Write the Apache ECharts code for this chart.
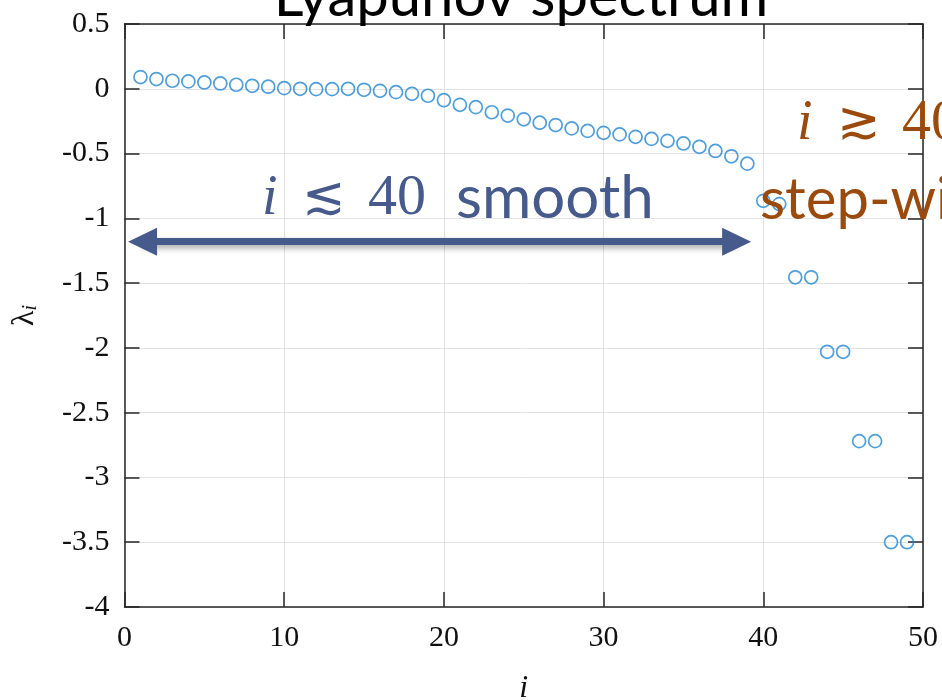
<!DOCTYPE html>
<html>
<head>
<meta charset="utf-8">
<script src="https://cdn.jsdelivr.net/npm/echarts@6/dist/echarts.min.js"></script>
<style>
html,body{margin:0;padding:0;background:#fff;}
#main{width:942px;height:700px;}
</style>
</head>
<body>
<div id="main"></div>
<script>
// spectrum index i and exponent lambda_i
var idx = [];
for (var k = 1; k <= 49; k++) idx.push(k);
var lambda = [
    0.09, 0.075, 0.062, 0.057, 0.049, 0.041, 0.031, 0.023, 0.016, 0.005,
    0.0, -0.003, -0.003, 0.0, -0.008, -0.016, -0.026, -0.039, -0.054, -0.088,
    -0.124, -0.142, -0.181, -0.207, -0.236, -0.262, -0.280, -0.306, -0.325, -0.340,
    -0.352, -0.371, -0.387, -0.402, -0.422, -0.448, -0.480, -0.521, -0.578,
    -0.865, -0.89, -1.455, -1.455, -2.03, -2.03, -2.72, -2.72, -3.5, -3.5
];
var xTicks = [0, 10, 20, 30, 40, 50];
var yTicks = [0.5, 0, -0.5, -1, -1.5, -2, -2.5, -3, -3.5, -4];
// annotation arrows (data coords, at the arrow-head centres)
var arrowY = -1.18;
var smoothRange = [1.13, 38.33];
var stepRange = [40.72, 50.1];

var chart = echarts.init(document.getElementById('main'));

var pts = idx.map(function (v, n) { return [v, lambda[n]]; });

var serif = '"Liberation Serif", "DejaVu Serif", serif';
var sans = 'Lato, "Open Sans", sans-serif';
var blueTxt = '#475a8c';
var brownTxt = '#9a4a0c';
var axisCol = '#262626';

var tickLabel = {
    fontFamily: serif,
    fontSize: 30,
    color: '#111'
};

function boxAxis(pos, min, max, step) {
    return {
        type: 'value', position: pos,
        min: min, max: max, interval: step,
        axisLine: {onZero: false, lineStyle: {color: axisCol, width: 1.5}},
        axisTick: {inside: true, length: 15, lineStyle: {color: axisCol, width: 1.5}},
        axisLabel: {show: false},
        splitLine: {show: false}
    };
}

var option = {
    animation: false,
    grid: {
        left: 124.5,
        right: 19,
        top: 24,
        bottom: 93,
        containLabel: false,
        outerBoundsMode: 'none'
    },
    xAxis: [{
        type: 'value',
        position: 'bottom',
        min: xTicks[0], max: xTicks[xTicks.length - 1], interval: 10,
        name: 'i',
        nameLocation: 'middle',
        nameGap: 66,
        nameTextStyle: {fontFamily: serif, fontStyle: 'italic', fontSize: 32, color: '#111'},
        axisLine: {onZero: false, lineStyle: {color: axisCol, width: 1.5}},
        axisTick: {inside: true, length: 15, lineStyle: {color: axisCol, width: 1.5}},
        axisLabel: Object.assign({margin: 16}, tickLabel),
        splitLine: {show: true, lineStyle: {color: '#e3e3e3', width: 1}}
    }, boxAxis('top', 0, 50, 10)],
    yAxis: [{
        type: 'value',
        position: 'left',
        min: yTicks[yTicks.length - 1], max: yTicks[0], interval: 0.5,
        name: '{l|λ}{s|i}',
        nameLocation: 'middle',
        nameRotate: 90,
        nameGap: 84,
        nameTextStyle: {
            rich: {
                l: {fontFamily: serif, fontSize: 32, color: '#111'},
                s: {fontFamily: serif, fontStyle: 'italic', fontSize: 20, color: '#111', padding: [12, 0, 0, 0]}
            }
        },
        axisLine: {onZero: false, lineStyle: {color: axisCol, width: 1.5}},
        axisTick: {inside: true, length: 15, lineStyle: {color: axisCol, width: 1.5}},
        axisLabel: Object.assign({margin: 15}, tickLabel),
        splitLine: {show: true, lineStyle: {color: '#e3e3e3', width: 1}}
    }, boxAxis('right', -4, 0.5, 0.5)],
    series: [{
        type: 'scatter',
        data: pts,
        symbol: 'circle',
        symbolSize: 13,
        clip: false,
        itemStyle: {color: 'rgba(0,0,0,0)', borderColor: '#2386d0', borderWidth: 1.7},
        markLine: {
            silent: true,
            label: {show: false},
            symbolSize: [28, 29],
            data: [
                [
                    {coord: [smoothRange[0], arrowY], symbol: 'triangle'},
                    {coord: [smoothRange[1], arrowY], symbol: 'triangle',
                     lineStyle: {color: '#475a8c', width: 7, type: 'solid',
                                 shadowBlur: 6, shadowColor: 'rgba(0,0,0,0.35)', shadowOffsetY: 3},
                     itemStyle: {color: '#475a8c'}}
                ],
                [
                    {coord: [stepRange[1], arrowY], symbol: 'none'},
                    {coord: [stepRange[0], arrowY], symbol: 'triangle',
                     lineStyle: {color: '#984608', width: 7, type: 'solid',
                                 shadowBlur: 6, shadowColor: 'rgba(0,0,0,0.35)', shadowOffsetY: 3},
                     itemStyle: {color: '#984608'}}
                ]
            ]
        }
    }],
    graphic: [
        {type: 'text', z: 100, x: 521, y: -32,
         style: {text: 'Lyapunov spectrum', font: '58px ' + sans, fill: '#000', align: 'center'}},
        // smooth label
        {type: 'text', z: 100, x: 262, y: 199,
         style: {text: 'i', fontFamily: serif, fontStyle: 'italic', fontSize: 56, fill: blueTxt, verticalAlign: 'middle'}},
        {type: 'text', z: 100, x: 302, y: 199,
         style: {text: '≲', fontFamily: '"DejaVu Serif", serif', fontSize: 52, fill: blueTxt, verticalAlign: 'middle'}},
        {type: 'text', z: 100, x: 368, y: 199,
         style: {text: '40', fontFamily: serif, fontSize: 58, fill: blueTxt, verticalAlign: 'middle'}},
        {type: 'text', z: 100, x: 456, y: 199,
         style: {text: 'smooth', fontFamily: sans, fontSize: 60, fill: blueTxt, verticalAlign: 'middle'}},
        // step-wise label
        {type: 'text', z: 100, x: 797, y: 124,
         style: {text: 'i', fontFamily: serif, fontStyle: 'italic', fontSize: 56, fill: brownTxt, verticalAlign: 'middle'}},
        {type: 'text', z: 100, x: 837, y: 124,
         style: {text: '≳', fontFamily: '"DejaVu Serif", serif', fontSize: 52, fill: brownTxt, verticalAlign: 'middle'}},
        {type: 'text', z: 100, x: 902, y: 124,
         style: {text: '40', fontFamily: serif, fontSize: 58, fill: brownTxt, verticalAlign: 'middle'}},
        {type: 'text', z: 100, x: 760, y: 200,
         style: {text: 'step-wise', fontFamily: sans, fontSize: 58, fill: brownTxt, verticalAlign: 'middle'}}
    ]
};

chart.setOption(option);
</script>
</body>
</html>
